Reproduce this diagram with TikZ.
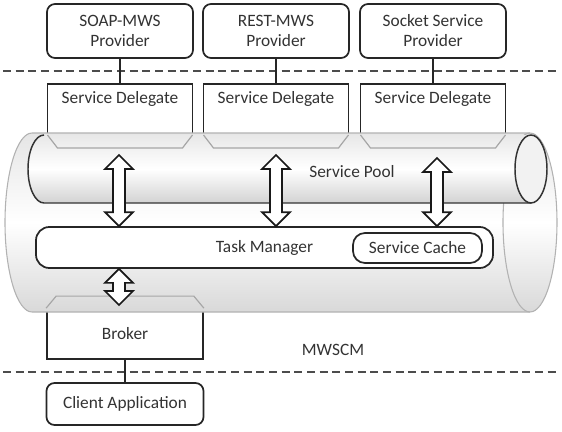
\documentclass[tikz,border=0pt]{standalone}
\usepackage{fontspec}
\setmainfont{Carlito}
\usetikzlibrary{calc}
\tikzset{
    box/.style={draw=black!85, line width=1.3pt, fill=white},
    prov/.style={box, rounded corners=6pt, minimum width=109.5pt, minimum height=40.5pt, align=center},
    deleg/.style={box, minimum width=108.75pt, minimum height=42.75pt, anchor=north},
    dlabel/.style={anchor=north, inner sep=6.5pt},
    conn/.style={black!85, line width=1.3pt},
    sep/.style={black!70, line width=1.6pt, dash pattern=on 6pt off 3.5pt},
    tab/.style={gray!70, line width=0.9pt},
    blockarr/.style={draw=black!90, fill=white, line width=1.3pt, line join=miter},
    every node/.append style={text=black!80}
}
\newcommand{\dblarrow}[2]{\draw[blockarr](#1)--++(14,14)--++(-8,0)--($(#2)+(6,-14)$)--++(8,0)--(#2)--++(-14,-14)--++(8,0)--($(#1)+(-6,14)$)--++(-8,0)--cycle;}
\begin{document}
\begin{tikzpicture}[x=0.75pt,y=-0.75pt,font=\fontsize{13}{15}\selectfont]
\useasboundingbox(0,0)rectangle(562,432);
\draw[sep](3,71)--(560,71);
\draw[sep](3,372)--(560,372);
\foreach \i/\x/\nm in {1/120/SOAP-MWS, 2/276/REST-MWS, 3/433/Socket Service}
{
    \node[deleg, label={[dlabel]north:Service Delegate}](sd\i) at (\x,83){};
    \node[prov](pv\i) at (\x,31){\nm\\Provider};
    \draw[conn](pv\i)--(sd\i);
}
\node[box, minimum width=117pt, minimum height=37.5pt](broker) at (125,334){Broker};
\node[prov, minimum width=117.75pt, minimum height=31.5pt](client) at (125,404){Client Application};
\draw[conn](broker)--(client);

\draw[draw=gray!60, line width=0.8pt, top color=gray!20, bottom color=gray!30, middle color=white](32,133)--(530,133) arc[start angle=90, end angle=-90, x radius=20.25pt, y radius=67.125pt]--(32,312) arc[start angle=270, end angle=90, x radius=20.25pt, y radius=67.125pt]--cycle;
\draw[draw=gray!60, line width=0.8pt](530,133) arc[start angle=90, end angle=270, x radius=20.25pt, y radius=67.125pt];
\path[top color=gray!18, bottom color=gray!35, middle color=white](44,135)--(531,135) arc[start angle=90, end angle=-90, x radius=12pt, y radius=25.5pt]--(44,203) arc[start angle=270, end angle=90, x radius=12pt, y radius=25.5pt]--cycle;
\draw[black!80, line width=1.1pt](44,135) arc[start angle=90, end angle=270, x radius=12pt, y radius=25.5pt]--(531,203);
\draw[black!80, line width=1.1pt, fill=gray!10](531,169) ellipse[x radius=12pt, y radius=25.5pt];
\foreach \x in {120,276,433}
{
    \draw[tab](\x-72.5,135)--++(10,13)--(\x+62.5,148)--(\x+72.5,135);
}
\draw[tab](broker.north west)--++(10,-12)--($(broker.north east)+(-10,-12)$)--(broker.north east);
\node(pool) at (352,172){Service Pool};
\node(mwscm) at (333,350){MWSCM};

\node[box, rounded corners=10pt, minimum width=342.75pt, minimum height=30.75pt](tm) at (264.5,247.5){Task Manager};
\node[box, rounded corners=9pt, minimum width=96.75pt, minimum height=22.5pt](cache) at (417.5,248){Service Cache};
\foreach \i/\x/\y in {1/119/155, 2/276/155, 3/437/158}
{
    \coordinate(up\i) at (\x,\y);
    \coordinate(dn\i) at (up\i|-tm.north);
    \dblarrow{up\i}{dn\i}
}
\coordinate(up4) at (tm.south-|up1);
\coordinate(dn4) at (119,305);
\dblarrow{up4}{dn4}
\end{tikzpicture}
\end{document}
